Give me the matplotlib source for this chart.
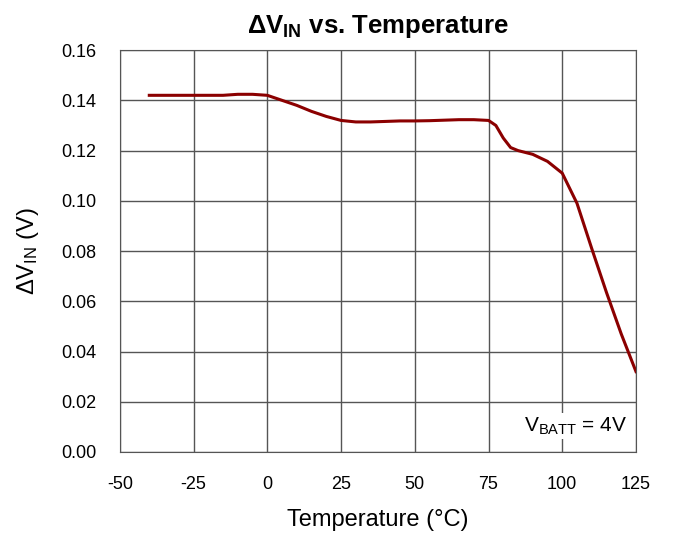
import numpy as np
import matplotlib.pyplot as plt

plt.rcParams['font.family'] = ['Liberation Sans', 'DejaVu Sans']
plt.rcParams['mathtext.default'] = 'regular'
plt.rcParams['axes.unicode_minus'] = False

temp = [-40, -30, -20, -15, -10, -5, 0, 5, 10, 15, 20, 25, 30, 35, 40, 45,
        50, 55, 60, 65, 70, 75, 77.5, 80, 82.5, 85, 90, 95, 100, 105, 110,
        115, 120, 125]
dvin = [0.142, 0.142, 0.142, 0.142, 0.1424, 0.1424, 0.1420, 0.1400, 0.1380,
        0.1356, 0.1336, 0.1320, 0.1314, 0.1314, 0.1316, 0.1318, 0.1318,
        0.1319, 0.1321, 0.1323, 0.1323, 0.1320, 0.1300, 0.1250, 0.1212,
        0.1200, 0.1185, 0.1157, 0.1110, 0.0990, 0.0810, 0.0635, 0.0470,
        0.0320]

xticks = [-50, -25, 0, 25, 50, 75, 100, 125]
yticks = [0.00, 0.02, 0.04, 0.06, 0.08, 0.10, 0.12, 0.14, 0.16]

fig = plt.figure(figsize=(6.73, 5.33), dpi=100)
ax = fig.add_axes([0.178, 0.152, 0.767, 0.754])

ax.plot(temp, dvin, color='#8B0000', linewidth=2.2)

ax.set_xlim(-50, 125)
ax.set_ylim(0, 0.16)
ax.set_xticks(xticks)
ax.set_yticks(yticks)
ax.set_yticklabels([f"{v:.2f}" for v in yticks])
ax.grid(True, color='#555555', linewidth=1)
ax.tick_params(length=0, labelsize=13, pad=17)
for s in ax.spines.values():
    s.set_color('#555555')

ax.set_title("ΔV$_{IN}$ vs. Temperature", fontsize=18.5, fontweight='bold', pad=12)
ax.set_xlabel("Temperature (°C)", fontsize=17, labelpad=12)
ax.set_ylabel("ΔV$_{IN}$ (V)", fontsize=17, labelpad=14)

ax.text(0.983, 0.065, "V$_{BATT}$ = 4V", transform=ax.transAxes,
        ha='right', va='center', fontsize=15,
        bbox=dict(facecolor='white', edgecolor='none', pad=2))

fig.savefig("out.png", dpi=100)
